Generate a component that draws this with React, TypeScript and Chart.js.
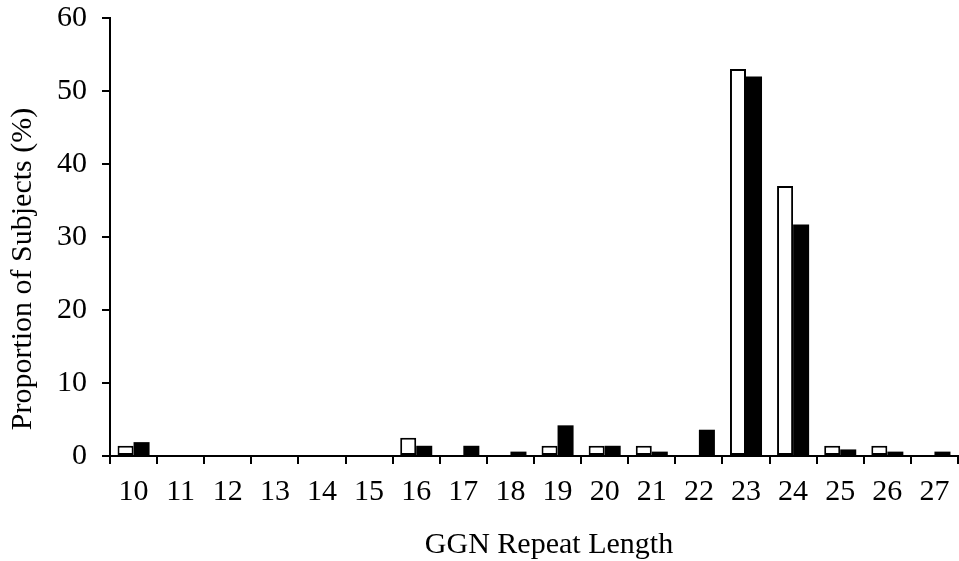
import React, { useEffect, useRef } from "react";
import { Chart, registerables } from "chart.js";

Chart.register(...registerables);

const categories = ["10","11","12","13","14","15","16","17","18","19","20","21","22","23","24","25","26","27"];
const whiteSeries = [1.4,0,0,0,0,0,2.5,0,0,1.4,1.4,1.4,0,53,37,1.4,1.4,0];
const blackSeries = [1.9,0,0,0,0,0,1.4,1.4,0.6,4.2,1.4,0.6,3.6,52,31.7,0.9,0.6,0.6];
const yTitle = "Proportion of Subjects (%)";
const xTitle = "GGN Repeat Length";

const FONT = '"Liberation Serif", "Times New Roman", serif';

const titlePlugin = {
  id: "axisTitlesCustom",
  afterDraw(chart: any) {
    const { ctx, chartArea } = chart;
    ctx.save();
    ctx.fillStyle = "#000";
    ctx.font = `30px ${FONT}`;
    ctx.textAlign = "center";
    ctx.textBaseline = "alphabetic";
    const cx = (chartArea.left + chartArea.right) / 2 + 15;
    ctx.fillText(xTitle, cx, chart.height - 8);
    const cy = (chartArea.top + chartArea.bottom) / 2 + 32;
    ctx.translate(31, cy);
    ctx.rotate(-Math.PI / 2);
    ctx.fillText(yTitle, 0, 0);
    ctx.restore();
  },
};

export default function App() {
  const ref = useRef<HTMLCanvasElement>(null);
  useEffect(() => {
    if (!ref.current) return;
    const chart = new Chart(ref.current, {
      type: "bar",
      data: {
        labels: categories,
        datasets: [
          {
            label: "A",
            data: whiteSeries,
            backgroundColor: "#ffffff",
            borderColor: "#000000",
            borderWidth: (c: any) => (c.raw ? 2 : 0),
            borderSkipped: false,
            categoryPercentage: 0.68,
            barPercentage: 1,
          },
          {
            label: "B",
            data: blackSeries,
            backgroundColor: "#000000",
            borderColor: "#000000",
            borderWidth: 0,
            categoryPercentage: 0.68,
            barPercentage: 1,
          },
        ],
      },
      options: {
        animation: false,
        responsive: true,
        maintainAspectRatio: false,
        layout: { autoPadding: false, padding: { left: 0, right: 1, top: 18, bottom: 0 } },
        plugins: { legend: { display: false }, tooltip: { enabled: false } },
        scales: {
          x: {
            offset: true,
            grid: {
              display: true,
              offset: true,
              drawOnChartArea: false,
              drawTicks: true,
              tickLength: 8,
              color: "#000",
              lineWidth: 2,
            },
            border: { display: true, color: "#000", width: 2 },
            ticks: {
              color: "#000",
              font: { family: FONT, size: 30, lineHeight: 1.2 },
              padding: 10,
              maxRotation: 0,
              autoSkip: false,
            },
            afterFit(scale: any) {
              scale.height = 105;
              scale.paddingLeft = 0;
              scale.paddingRight = 0;
              scale.paddingTop = 0;
              scale.paddingBottom = 0;
            },
          },
          y: {
            min: 0,
            max: 60,
            grid: {
              display: true,
              drawOnChartArea: false,
              drawTicks: true,
              tickLength: 8,
              color: "#000",
              lineWidth: 2,
            },
            border: { display: true, color: "#000", width: 2 },
            ticks: {
              stepSize: 10,
              color: "#000",
              font: { family: FONT, size: 30, lineHeight: 1.2 },
              padding: 15,
            },
            afterFit(scale: any) {
              scale.width = 110;
              scale.paddingTop = 0;
              scale.paddingBottom = 0;
              scale.paddingLeft = 0;
              scale.paddingRight = 0;
            },
          },
        },
      },
      plugins: [titlePlugin],
    });
    return () => chart.destroy();
  }, []);
  return (
    <div style={{ position: "absolute", left: 0, top: 0, width: 959, height: 561 }}>
      <canvas ref={ref} />
    </div>
  );
}
